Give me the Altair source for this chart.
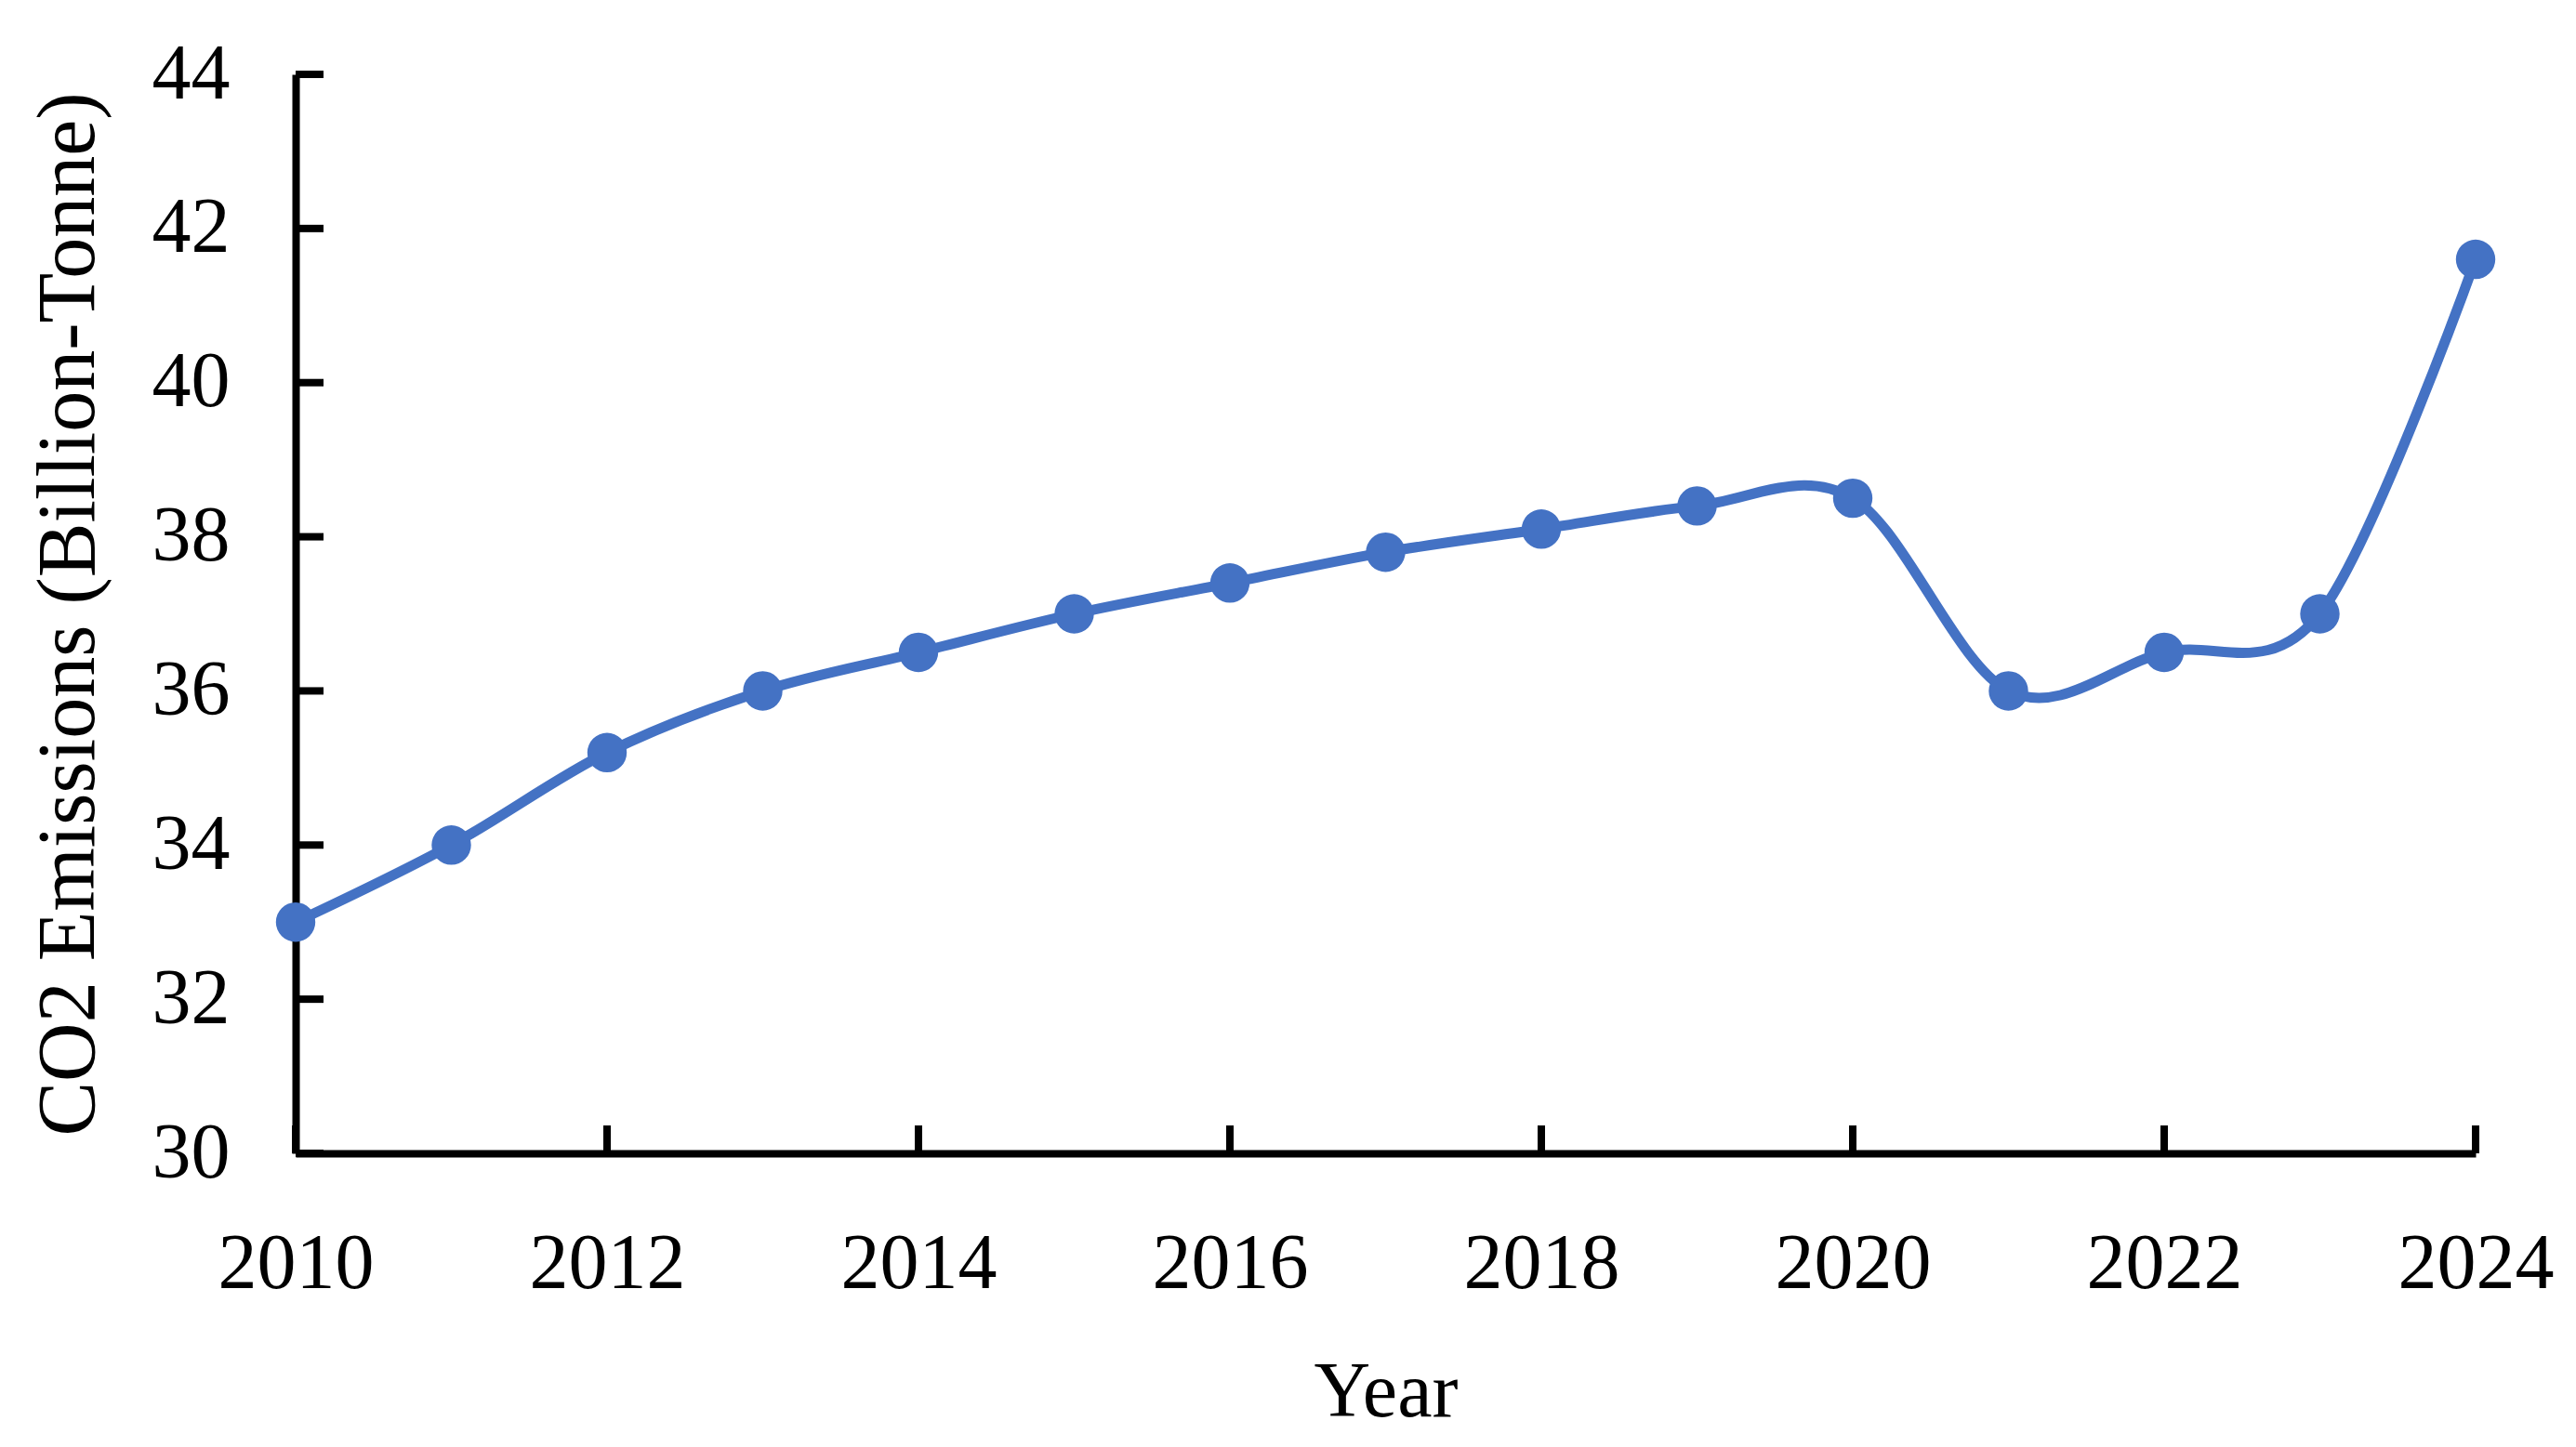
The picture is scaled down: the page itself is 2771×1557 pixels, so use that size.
import altair as alt
import pandas as pd

years = [2010, 2011, 2012, 2013, 2014, 2015, 2016, 2017, 2018, 2019, 2020, 2021, 2022, 2023, 2024]
emissions = [33.0, 34.0, 35.2, 36.0, 36.5, 37.0, 37.4, 37.8, 38.1, 38.4, 38.5, 36.0, 36.5, 37.0, 41.6]
x_ticks = [2010, 2012, 2014, 2016, 2018, 2020, 2022, 2024]
y_ticks = [30, 32, 34, 36, 38, 40, 42, 44]

BLUE = "#4472C4"
FONT = "Liberation Serif"
W, H = 2345, 1161
TICK = 30

df = pd.DataFrame({"Year": years, "CO2": emissions})
dfx = pd.DataFrame({"Year": x_ticks})
dfy = pd.DataFrame({"CO2": y_ticks})

xscale = alt.Scale(domain=[2010, 2024], nice=False, zero=False)
yscale = alt.Scale(domain=[30, 44], nice=False, zero=False)

xaxis = alt.Axis(
    values=x_ticks, format="d", title="Year", grid=False, ticks=False, tickSize=0,
    labelFont=FONT, labelFontSize=84, labelColor="black", labelPadding=78,
    titleFont=FONT, titleFontSize=84, titleFontWeight="normal", titleColor="black",
    titlePadding=55, domainColor="black", domainWidth=8, labelFlush=False,
)
yaxis = alt.Axis(
    values=y_ticks, format="d", title="CO2 Emissions (Billion-Tonne)", grid=False, ticks=False, tickSize=0,
    labelFont=FONT, labelFontSize=84, labelColor="black", labelPadding=71,
    titleFont=FONT, titleFontSize=88, titleFontWeight="normal", titleColor="black",
    titlePadding=45, domainColor="black", domainWidth=8, labelFlush=False,
)

base_line = alt.Chart(df).mark_line(
    color=BLUE, strokeWidth=11, interpolate="cardinal", tension=0
).encode(
    x=alt.X("Year:Q", scale=xscale, axis=xaxis),
    y=alt.Y("CO2:Q", scale=yscale, axis=yaxis),
)

pts = alt.Chart(df).mark_point(
    filled=True, color=BLUE, size=1800, opacity=1, shape="circle"
).encode(
    x=alt.X("Year:Q", scale=xscale),
    y=alt.Y("CO2:Q", scale=yscale),
)

xt = alt.Chart(dfx).mark_rule(color="black", strokeWidth=8).encode(
    x=alt.X("Year:Q", scale=xscale),
    y=alt.value(H),
    y2=alt.value(H - TICK),
)

yt = alt.Chart(dfy).mark_rule(color="black", strokeWidth=8).encode(
    y=alt.Y("CO2:Q", scale=yscale),
    x=alt.value(0),
    x2=alt.value(TICK),
)

chart = alt.layer(xt, yt, base_line, pts).properties(
    width=W, height=H,
    autosize=alt.AutoSizeParams(type="none"),
    padding={"left": 310, "top": 72, "right": 90, "bottom": 310},
    background="white",
).configure_view(stroke=None)

chart.save("out.html", embed_options={"renderer": "svg", "actions": False})
